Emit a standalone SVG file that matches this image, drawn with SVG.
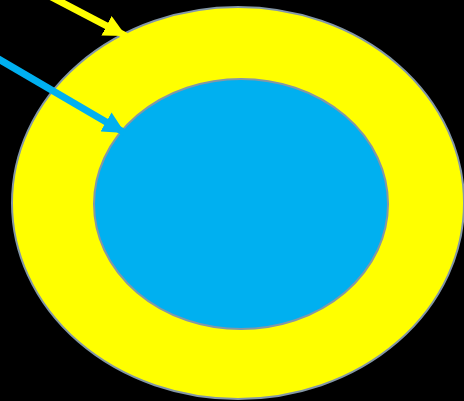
<svg xmlns="http://www.w3.org/2000/svg" width="464" height="401" viewBox="0 0 464 401">
<style>
.ell{stroke:#8497a6;stroke-width:2}
</style>
<defs>
<marker id="ay" markerUnits="userSpaceOnUse" markerWidth="24" markerHeight="22" refX="22" refY="11" orient="auto"><path d="M0,0 L22,11 L0,22 Z" fill="#ffff00"/></marker>
<marker id="ab" markerUnits="userSpaceOnUse" markerWidth="24" markerHeight="22" refX="22" refY="11" orient="auto"><path d="M0,0 L22,11 L0,22 Z" fill="#00b0f0"/></marker>
</defs>
<rect width="464" height="401" fill="#000"/>
<g id="outer"><ellipse class="ell" cx="238" cy="203" rx="226" ry="196" fill="#ffff00"/></g>
<g id="inner"><ellipse class="ell" cx="241" cy="204" rx="147" ry="125" fill="#00b0f0"/></g>
<g id="connectors">
<line x1="40" y1="-9" x2="126" y2="36" stroke="#ffff00" stroke-width="7" marker-end="url(#ay)"/>
<line x1="-10" y1="54" x2="125" y2="133" stroke="#00b0f0" stroke-width="7" marker-end="url(#ab)"/>
</g>
</svg>
